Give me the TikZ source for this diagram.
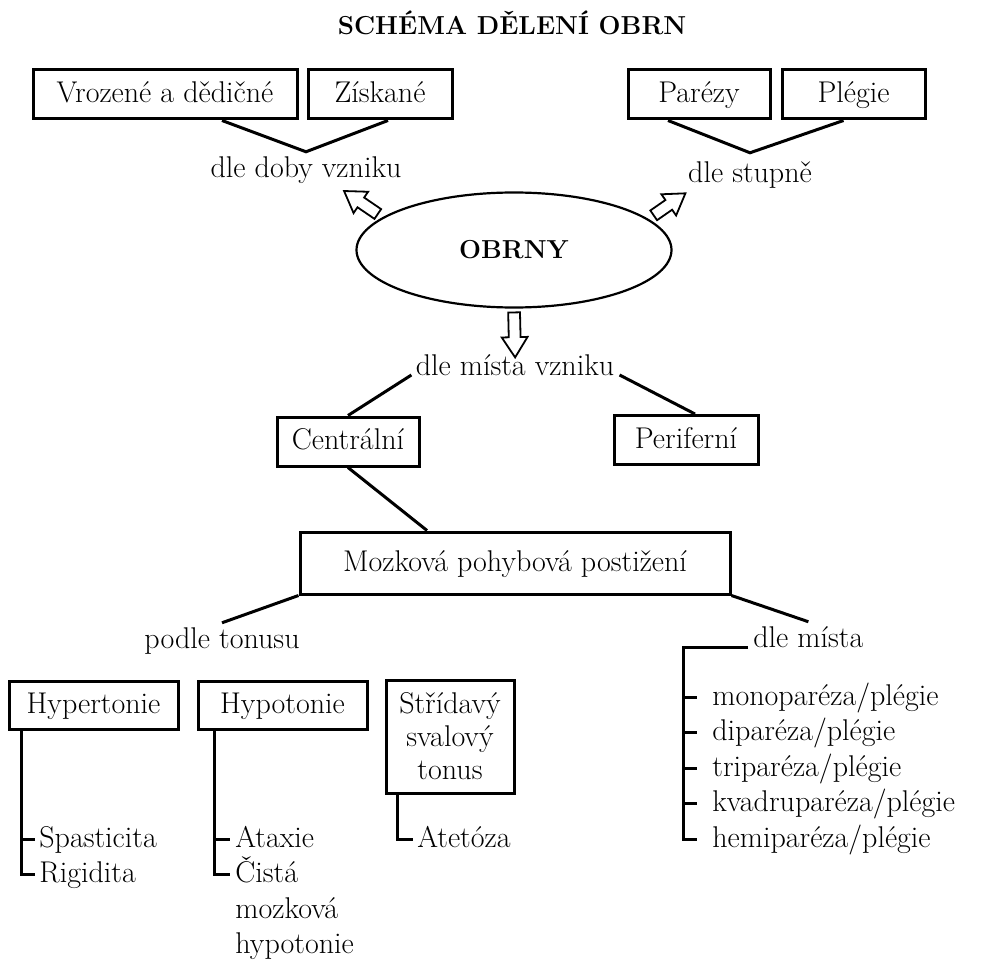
\documentclass[tikz,border=0pt]{standalone}
\usepackage{fontspec}
\usetikzlibrary{shapes.geometric,shapes.arrows}
\begin{document}
\begin{tikzpicture}[x=0.5pt,y=-0.5pt,font=\fontsize{15}{17.75}\selectfont,
	obrys/.style={draw,line width=1.5pt,inner sep=0pt},
	ramec/.style={obrys,minimum height=24.5pt,text height=11pt,text depth=3pt},
	popis/.style={inner sep=0pt,anchor=base},
	polozka/.style={inner sep=0pt,anchor=base west},
	cara/.style={line width=1.5pt,line join=miter},
	tucne/.style={font=\fontsize{13}{15}\selectfont\bfseries},
	sipka/.style={single arrow,draw,fill=white,line width=0.9pt,inner sep=2.5pt,minimum width=12pt,
		single arrow head extend=3.5pt,single arrow tip angle=65,sloped,allow upside down}]
	\useasboundingbox (0,0) rectangle (986,963);
	\node [popis,tucne] (titul) at (512,35) {SCHÉMA DĚLENÍ OBRN};

	\node [ramec,minimum width=132pt] (vrozene) at (165,94.5) {Vrozené a dědičné};
	\node [ramec,minimum width=72pt] (ziskane) at (380,94.5) {Získané};
	\node [ramec,minimum width=71pt] (parezy) at (699,94.5) {Parézy};
	\node [ramec,minimum width=71.5pt] (plegie) at (853.5,94.5) {Plégie};
	\node [popis] (doba) at (306,177) {dle doby vzniku};
	\node [popis] (stupen) at (750,183) {dle stupně};
	\draw [cara] ([xshift=28.5pt]vrozene.south) -- ([yshift=2pt]doba.north) -- ([xshift=4pt]ziskane.south);
	\draw [cara] ([xshift=-15.5pt]parezy.south) -- ([yshift=4.5pt]stupen.north) -- ([xshift=-5pt]plegie.south);

	\node [ellipse,draw,line width=1.1pt,inner sep=0pt,minimum width=157.5pt,minimum height=57.5pt,tucne] (obrny) at (514,250) {OBRNY};
	\coordinate (hrotDoba) at (347,193);
	\coordinate (hrotStupen) at (683,195);
	\coordinate (hrotMisto) at (515,352);
	\path (obrny.166) -- node [sipka,minimum height=20.4pt] {} (hrotDoba);
	\path (obrny.13) -- node [sipka,minimum height=19.3pt] {} (hrotStupen);
	\path (obrny.south) -- node [sipka,minimum height=22.5pt] {} (hrotMisto);

	\node [popis] (misto) at (515,375) {dle místa vzniku};
	\node [ramec,minimum width=71pt] (centralni) at (348,441.5) {Centrální};
	\node [ramec,minimum width=72pt] (periferni) at (686,440) {Periferní};
	\draw [cara] ([xshift=-2pt]misto.base west) -- (centralni.north);
	\draw [cara] ([xshift=2.5pt]misto.base east) -- ([xshift=4.5pt]periferni.north);

	\node [ramec,minimum width=215pt,minimum height=31pt] (mozkova) at (515,563) {Mozková pohybová postižení};
	\draw [cara] (centralni.south) -- ([xshift=-44pt]mozkova.north);
	\node [popis] (tonus) at (222,648) {podle tonusu};
	\node [polozka] (mista) at (753,647) {dle místa};
	\draw [cara] (mozkova.south west) -- ([yshift=2pt]tonus.north);
	\draw [cara] (mozkova.south east) -- ([yshift=2pt]mista.north);

	\node [ramec,minimum width=84.5pt,minimum height=24pt] (hyper) at (93.5,705) {Hypertonie};
	\node [ramec,minimum width=84.5pt,minimum height=24pt] (hypo) at (282.5,705) {Hypotonie};
	\node [obrys,minimum width=64pt,minimum height=56.5pt,align=center,font=\fontsize{15}{16.5}\selectfont] (stridavy) at (450,736.5) {Střídavý\\svalový\\tonus};

	\node [polozka] (spast) at (39,847) {Spasticita};
	\node [polozka] (rigid) at (39,882.5) {Rigidita};
	\node [polozka] (ataxie) at (235,847) {Ataxie};
	\node [polozka] (cista) at (235,882.5) {\begin{tabular}[t]{@{}l@{}}Čistá\\mozková\\hypotonie\end{tabular}};
	\node [polozka] (atetoza) at (417,847) {Atetóza};

	\coordinate (hyperCara) at ([xshift=7pt]hyper.south west);
	\coordinate (hypoCara) at ([xshift=9pt]hypo.south west);
	\coordinate (stridCara) at ([xshift=6.5pt]stridavy.south west);
	\draw [cara] (hyperCara) |- ([shift={(-2pt,4pt)}]rigid.base west);
	\draw [cara] ([yshift=4pt]spast.base west -| hyperCara) -- ([shift={(-2pt,4pt)}]spast.base west);
	\draw [cara] (hypoCara) |- ([shift={(-2.5pt,4pt)}]cista.base west);
	\draw [cara] ([yshift=4pt]ataxie.base west -| hypoCara) -- ([shift={(-2.5pt,4pt)}]ataxie.base west);
	\draw [cara] (stridCara) |- ([shift={(-2pt,4pt)}]atetoza.base west);

	\node [polozka] (mono) at (712,705) {monoparéza/plégie};
	\node [polozka] (di) at (712,740.5) {diparéza/plégie};
	\node [polozka] (tri) at (712,776) {triparéza/plégie};
	\node [polozka] (kvadru) at (712,811.5) {kvadruparéza/plégie};
	\node [polozka] (hemi) at (712,847) {hemiparéza/plégie};
	\coordinate (mistaCara) at (683,648);
	\draw [cara] ([xshift=-2.5pt]mista.base west) -| ([yshift=4pt]hemi.base west -| mistaCara) -- ([shift={(-7.5pt,4pt)}]hemi.base west);
	\draw [cara] ([yshift=4pt]mono.base west -| mistaCara) -- ([shift={(-7.5pt,4pt)}]mono.base west);
	\draw [cara] ([yshift=4pt]di.base west -| mistaCara) -- ([shift={(-7.5pt,4pt)}]di.base west);
	\draw [cara] ([yshift=4pt]tri.base west -| mistaCara) -- ([shift={(-7.5pt,4pt)}]tri.base west);
	\draw [cara] ([yshift=4pt]kvadru.base west -| mistaCara) -- ([shift={(-7.5pt,4pt)}]kvadru.base west);
\end{tikzpicture}
\end{document}
